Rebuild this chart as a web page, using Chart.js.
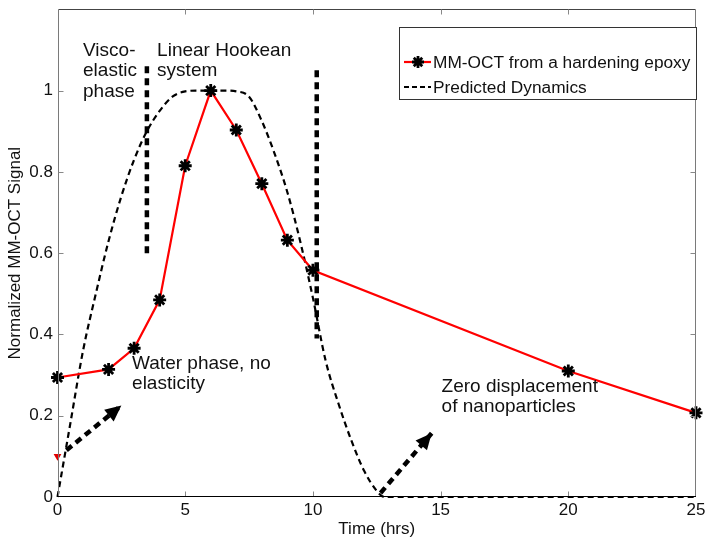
<!DOCTYPE html>
<html><head><meta charset="utf-8">
<script src="https://cdn.jsdelivr.net/npm/chart.js@4/dist/chart.umd.min.js"></script>
<style>html,body{margin:0;padding:0;background:#fff;}#wrap{width:714px;height:547px;}</style>
</head><body><div id="wrap"><canvas id="c" width="714" height="547"></canvas></div>
<script>
// ---- data ----
const timeHrs      = [0, 2, 3, 4, 5, 6, 7, 8, 9, 10, 20, 25];
const mmOctSignal  = [0.294, 0.314, 0.366, 0.485, 0.815, 1.0, 0.903, 0.771, 0.632, 0.558, 0.31, 0.207];
const predTime     = [0, 0.5, 1, 1.5, 2, 2.5, 3, 3.5, 4, 4.5, 5, 5.5, 6, 6.5, 7, 7.5, 8, 8.5, 9, 9.5, 10, 10.5, 11, 11.5, 12, 12.5, 12.8, 25];
const predSignal   = [0, 0.18, 0.36, 0.5, 0.63, 0.74, 0.83, 0.9, 0.95, 0.985, 0.998, 1, 1, 1, 0.998, 0.985, 0.925, 0.845, 0.75, 0.63, 0.49, 0.335, 0.23, 0.14, 0.065, 0.015, 0, 0];
const startMarkerX = [0];
const startMarkerY = [0.1];
const phaseLineX      = [3.5, 10.15];
const phaseLineTop    = [1.06, 1.05];
const phaseLineBottom = [0.595, 0.39];
const arrowStartX = [0.35, 12.65];
const arrowStartY = [0.115, 0.01];
const arrowEndX   = [2.5, 14.65];
const arrowEndY   = [0.225, 0.157];
const xTicks = [0, 5, 10, 15, 20, 25];
const yTicks = [0, 0.2, 0.4, 0.6, 0.8, 1];
const seriesNames = ['MM-OCT from a hardening epoxy', 'Predicted Dynamics'];
const notes = [
  {x: 1.0,  y: 1.098, lines: ['Visco-', 'elastic', 'phase']},
  {x: 3.9,  y: 1.098, lines: ['Linear Hookean', 'system']},
  {x: 2.92, y: 0.328, lines: ['Water phase, no', 'elasticity']},
  {x: 15.04, y: 0.272, lines: ['Zero displacement', 'of nanoparticles']}
];

const FONT = "'Liberation Sans', Arial, sans-serif";

const pts = (xs, ys) => xs.map((v, i) => ({x: v, y: ys[i]}));

const datasets = [];
datasets.push({
  label: seriesNames[0], data: pts(timeHrs, mmOctSignal),
  borderColor: '#ff0000', borderWidth: 2.2, tension: 0,
  pointStyle: 'star', pointRadius: 6.5, pointBorderWidth: 2.8,
  pointBorderColor: '#000', pointBackgroundColor: '#000', clip: false, order: 0
});
datasets.push({
  label: 'marker', data: pts(startMarkerX, startMarkerY), showLine: false,
  pointStyle: 'triangle', rotation: 180, pointRadius: 4.5, pointBorderWidth: 0,
  pointBackgroundColor: '#e00000', pointBorderColor: '#e00000', clip: false, order: 1
});
datasets.push({
  label: seriesNames[1], data: pts(predTime, predSignal),
  borderColor: '#000', borderWidth: 2.2, borderDash: [6, 4], pointRadius: 0,
  cubicInterpolationMode: 'monotone', clip: false, order: 2
});
phaseLineX.forEach((px, i) => datasets.push({
  label: 'phase' + i, data: [{x: px, y: phaseLineTop[i]}, {x: px, y: phaseLineBottom[i]}],
  borderColor: '#000', borderWidth: 4.5, borderDash: [7, 5], pointRadius: 0, clip: false, order: 3
}));
arrowStartX.forEach((sx, i) => datasets.push({
  label: 'arrow' + i, data: [{x: sx, y: arrowStartY[i]}, {x: arrowEndX[i], y: arrowEndY[i]}],
  borderColor: '#000', borderWidth: 4.5, borderDash: [7, 5], pointRadius: 0, clip: false, order: 3
}));

const overlay = {
  id: 'overlay',
  afterDatasetsDraw(chart) {
    const {ctx, chartArea: a, scales: {x, y}} = chart;
    ctx.save();
    // arrowheads
    arrowStartX.forEach((sx, i) => {
      const x0 = x.getPixelForValue(sx), y0 = y.getPixelForValue(arrowStartY[i]);
      const x1 = x.getPixelForValue(arrowEndX[i]), y1 = y.getPixelForValue(arrowEndY[i]);
      const ang = Math.atan2(y1 - y0, x1 - x0);
      const L = 16, W = 7.5;
      ctx.beginPath();
      ctx.moveTo(x1, y1);
      ctx.lineTo(x1 - L * Math.cos(ang) + W * Math.sin(ang), y1 - L * Math.sin(ang) - W * Math.cos(ang));
      ctx.lineTo(x1 - L * Math.cos(ang) - W * Math.sin(ang), y1 - L * Math.sin(ang) + W * Math.cos(ang));
      ctx.closePath();
      ctx.fillStyle = '#000';
      ctx.fill();
    });
    // box
    ctx.lineWidth = 1;
    const L = Math.round(a.left) + 0.5, R = Math.round(a.right) - 0.5, T = Math.round(a.top) + 0.5, B = Math.round(a.bottom) - 0.5;
    ctx.strokeStyle = '#444';
    ctx.beginPath(); ctx.moveTo(L, T); ctx.lineTo(R, T); ctx.stroke();
    ctx.strokeStyle = '#7a7a7a';
    ctx.beginPath(); ctx.moveTo(L, T); ctx.lineTo(L, B); ctx.moveTo(R, T); ctx.lineTo(R, B); ctx.stroke();
    // ticks
    ctx.strokeStyle = '#888';
    ctx.beginPath();
    xTicks.slice(1, -1).forEach(v => {
      const px = Math.round(x.getPixelForValue(v)) + 0.5;
      ctx.moveTo(px, B); ctx.lineTo(px, B - 5);
      ctx.moveTo(px, T); ctx.lineTo(px, T + 5);
    });
    yTicks.slice(1).forEach(v => {
      const py = Math.round(y.getPixelForValue(v)) + 0.5;
      ctx.moveTo(L, py); ctx.lineTo(L + 5, py);
      ctx.moveTo(R, py); ctx.lineTo(R - 5, py);
    });
    ctx.stroke();
    ctx.strokeStyle = '#000';
    ctx.beginPath(); ctx.moveTo(L - 0.5, B); ctx.lineTo(R + 0.5, B); ctx.stroke();
    // annotations
    ctx.fillStyle = '#111';
    ctx.font = '19px ' + FONT;
    ctx.textAlign = 'left';
    ctx.textBaseline = 'middle';
    notes.forEach(n => {
      const px = x.getPixelForValue(n.x), py = y.getPixelForValue(n.y);
      n.lines.forEach((t, k) => ctx.fillText(t, px, py + k * 20.5));
    });
    // legend
    const bx = 399.5, by = 27.5, bw = 297, bh = 72;
    ctx.fillStyle = '#fff';
    ctx.fillRect(bx, by, bw, bh);
    ctx.strokeStyle = '#333';
    ctx.strokeRect(bx, by, bw, bh);
    const rows = [62, 87];
    ctx.lineWidth = 2.2;
    ctx.strokeStyle = '#ff0000';
    ctx.beginPath(); ctx.moveTo(404, rows[0]); ctx.lineTo(431, rows[0]); ctx.stroke();
    // star
    ctx.strokeStyle = '#000'; ctx.lineWidth = 2.8;
    ctx.beginPath();
    for (let k = 0; k < 4; k++) {
      const ang = k * Math.PI / 4, r = 6;
      ctx.moveTo(418 - r * Math.cos(ang), rows[0] - r * Math.sin(ang));
      ctx.lineTo(418 + r * Math.cos(ang), rows[0] + r * Math.sin(ang));
    }
    ctx.stroke();
    ctx.lineWidth = 2.2; ctx.setLineDash([5, 3]);
    ctx.beginPath(); ctx.moveTo(404, rows[1]); ctx.lineTo(431, rows[1]); ctx.stroke();
    ctx.setLineDash([]);
    ctx.fillStyle = '#111';
    ctx.font = '17.3px ' + FONT;
    ctx.fillText(seriesNames[0], 433, rows[0] + 1);
    ctx.fillText(seriesNames[1], 433, rows[1] + 1);
    ctx.restore();
  }
};

new Chart(document.getElementById('c'), {
  type: 'line',
  data: {datasets},
  plugins: [overlay],
  options: {
    responsive: false, animation: false, devicePixelRatio: 1,
    layout: {padding: {left: 0, right: 18, top: 8, bottom: 0}},
    plugins: {legend: {display: false}, tooltip: {enabled: false}},
    elements: {line: {borderCapStyle: 'butt'}},
    scales: {
      x: {
        type: 'linear', min: 0, max: 25,
        afterBuildTicks: s => { s.ticks = xTicks.map(v => ({value: v})); },
        grid: {display: false, drawTicks: false}, border: {display: false},
        ticks: {font: {family: FONT, size: 17}, color: '#111', padding: 3, maxRotation: 0, autoSkip: false},
        title: {display: true, text: 'Time (hrs)', font: {family: FONT, size: 17}, color: '#111', padding: {top: 0, bottom: 7}},
        afterFit: s => { s.height = 50; s.paddingLeft = 0; s.paddingRight = 0; }
      },
      y: {
        type: 'linear', min: 0, max: 1.2,
        afterBuildTicks: s => { s.ticks = yTicks.map(v => ({value: v})); },
        grid: {display: false, drawTicks: false}, border: {display: false},
        ticks: {font: {family: FONT, size: 17}, color: '#111', padding: 4.5,
          callback: v => String(+v.toFixed(1))},
        title: {display: true, text: 'Normalized MM-OCT Signal', font: {family: FONT, size: 17}, color: '#111', padding: {top: 5, bottom: 0}},
        afterFit: s => { s.width = 57.5; s.paddingTop = 0; s.paddingBottom = 0; }
      }
    }
  }
});
</script></body></html>
